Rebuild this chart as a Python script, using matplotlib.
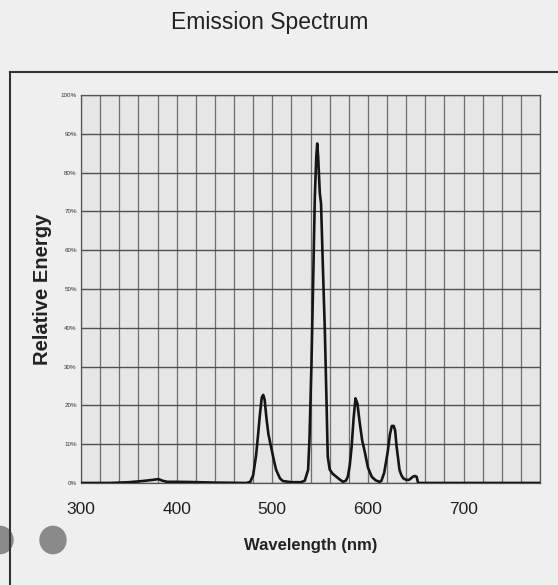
import numpy as np
import matplotlib.pyplot as plt
from matplotlib.patches import Circle
from matplotlib.lines import Line2D

# spectrum (nm, % relative energy)
wavelength = [300, 330, 350, 360, 368, 375, 381, 385, 390, 400, 414, 440, 473,
              477, 480, 483, 485, 487, 489, 490.5, 492, 494, 496, 499, 502, 504,
              508, 511, 520, 530, 534, 537.5, 539, 541, 543, 544.5, 546, 547,
              548, 549.7, 551, 553, 555, 557, 558, 560, 563, 567, 571, 574,
              577, 579, 581, 583, 585, 587, 589, 591.5, 594, 597, 600, 604,
              608, 612, 614, 617, 619, 621, 623, 625, 627, 628.5, 630, 632,
              633, 635, 637, 640, 643, 645, 647, 649, 651, 652.5, 655, 700, 780]
energy = [0.0, 0.0, 0.2, 0.4, 0.6, 0.8, 1.0, 0.6, 0.3, 0.3, 0.25, 0.1, 0.0,
          0.3, 2.0, 7.0, 12.0, 17.5, 22.0, 22.7, 21.5, 16.5, 12.5, 9.0, 5.5, 3.4,
          1.2, 0.5, 0.2, 0.2, 0.6, 3.4, 12.0, 31.0, 55.0, 73.8, 84.0, 87.5,
          84.0, 74.7, 72.0, 55.0, 39.0, 18.0, 6.8, 3.5, 2.4, 1.6, 0.8, 0.3,
          0.6, 1.6, 4.5, 9.4, 16.5, 21.8, 20.5, 15.4, 11.0, 7.7, 4.0, 1.6,
          0.7, 0.3, 0.5, 2.6, 5.5, 8.5, 12.5, 14.7, 14.7, 13.5, 9.4, 5.5,
          3.4, 2.0, 1.2, 0.8, 0.8, 1.2, 1.6, 1.8, 1.6, 0.0, 0.0, 0.0, 0.0]

x_ticks = [300, 400, 500, 600, 700]
y_ticks = list(range(0, 101, 10))
y_labels = [f"{v}%" for v in y_ticks]

plt.rcParams["font.family"] = ["Liberation Sans", "DejaVu Sans"]

fig = plt.figure(figsize=(5.58, 5.85), dpi=100, facecolor="#efefef")
ax = fig.add_axes([0.1452, 0.1744, 0.8226, 0.6632])
ax.set_facecolor("#e6e6e6")

# grid: every 20 nm and every 10 %
for gx in np.arange(300, 781, 20):
    ax.axvline(gx, color="#6e6e6e", lw=0.9, zorder=1)
for gy in y_ticks:
    ax.axhline(gy, color="#505050", lw=1.0, zorder=1)

ax.plot(wavelength, energy, color="#151515", lw=1.9, zorder=3)

ax.set_xlim(300, 780)
ax.set_ylim(0, 100)
ax.set_xticks(x_ticks)
ax.set_xticklabels([str(t) for t in x_ticks], fontsize=12.5, color="#222222")
ax.set_yticks(y_ticks)
ax.set_yticklabels(y_labels, fontsize=4.5, color="#333333")
ax.tick_params(axis="both", length=0)
ax.tick_params(axis="x", pad=14)
ax.tick_params(axis="y", pad=3)
for s in ax.spines.values():
    s.set_color("#555555")
    s.set_linewidth(0.9)

ax.set_xlabel("Wavelength (nm)", fontsize=12, fontweight="bold",
              color="#222222", labelpad=15)
ax.set_ylabel("Relative Energy", fontsize=14.5, fontweight="bold",
              color="#222222", labelpad=6)

fig.text(0.484, 0.962, "Emission Spectrum", ha="center", va="center",
         fontsize=16.5, color="#222222")

# outer frame of the card
fig.add_artist(Line2D([10 / 558, 1.0], [1 - 72 / 585, 1 - 72 / 585],
                      color="#333333", lw=1.5))
fig.add_artist(Line2D([10 / 558, 10 / 558], [0.0, 1 - 72 / 585],
                      color="#333333", lw=1.5))

# two grey dots at the bottom left
fig.add_artist(Circle((53 / 558, 1 - 540 / 585), 13 / 558,
                      transform=fig.transFigure, color="#8a8a8a"))
fig.add_artist(Circle((0 / 558, 1 - 540 / 585), 13 / 558,
                      transform=fig.transFigure, color="#8a8a8a"))

fig.savefig("out.png", dpi=100, facecolor=fig.get_facecolor())
